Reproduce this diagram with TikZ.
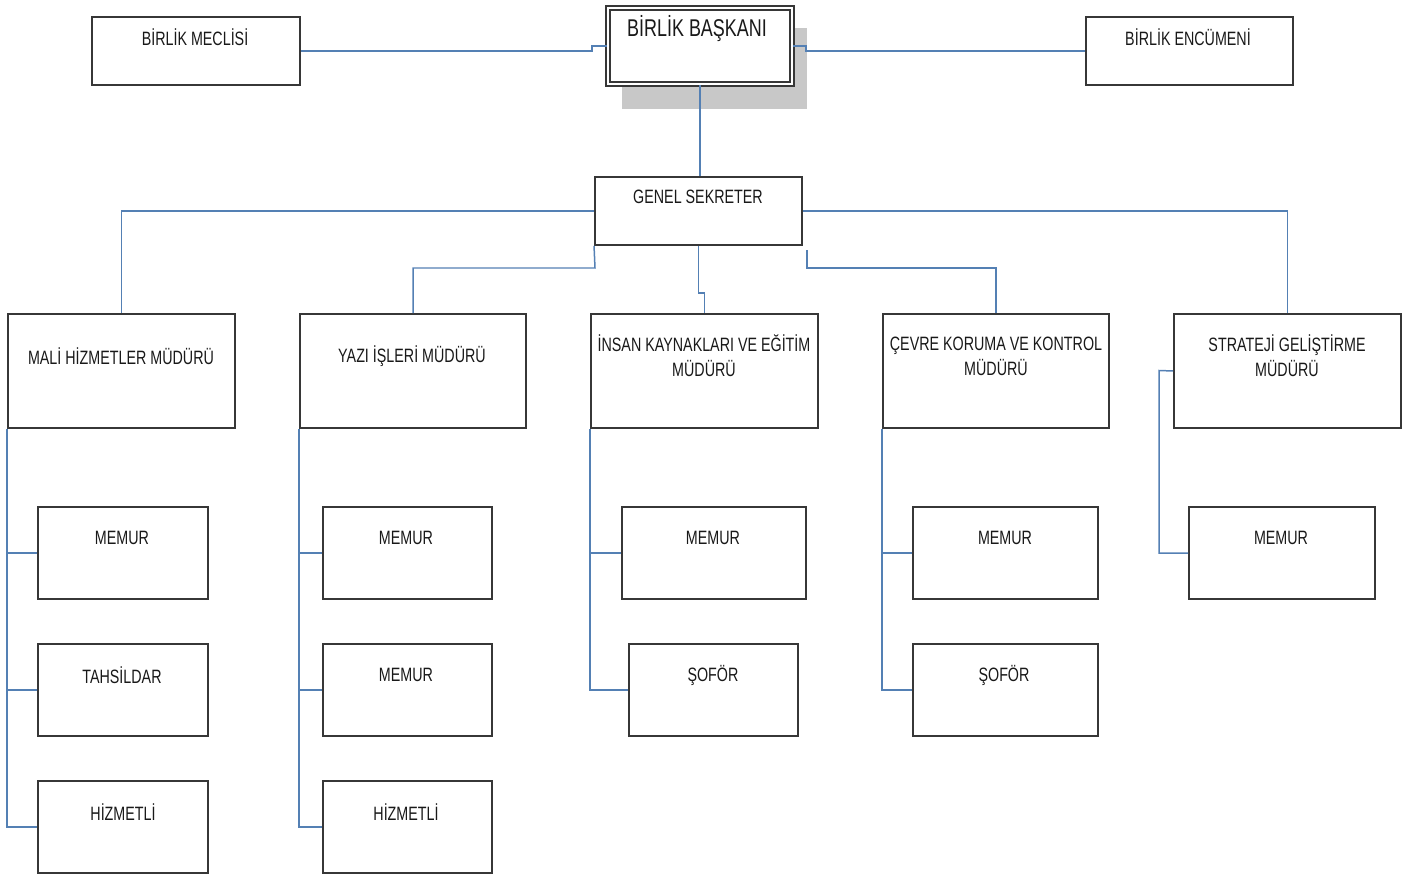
\documentclass[tikz,border=0pt]{standalone}
\usepackage{fontspec}
\setmainfont{Liberation Sans}[FakeStretch=0.74]
\usetikzlibrary{fit}
\definecolor{connc}{RGB}{84,128,180}
\definecolor{edgec}{RGB}{55,55,55}
\definecolor{shadec}{RGB}{200,200,200}
\definecolor{txtc}{RGB}{25,25,25}
\begin{document}
\begin{tikzpicture}[x=0.02cm,y=-0.02cm,
  box/.style={draw=edgec,line width=1.1pt,fill=white,inner sep=0pt},
  dbox/.style={draw=edgec,line width=0.9pt,double=white,double distance=1.6pt,fill=white,inner sep=0pt},
  txt/.style={inner sep=0pt,text=txtc,font=\fontsize{11}{14.2}\selectfont,align=center},
  bigtxt/.style={txt,font=\fontsize{13.8}{16}\selectfont},
  conn/.style={draw=connc,line width=0.85pt}]
\useasboundingbox (0,0) rectangle (1426,875);
% top row
\node[box,fit={(92,17)(300,85)}] (meclis) {};
\fill[shadec] (622,28) rectangle (807,109);
\node[dbox,fit={(608,8)(792,84)}] (baskan) {};
\node[box,fit={(1086,17)(1293,85)}] (encumen) {};
\node[box,fit={(595,177)(802,245)}] (gs) {};
% level 2
\node[box,fit={(8,314)(235,428)}] (mali) {};
\node[box,fit={(300,314)(526,428)}] (yazi) {};
\node[box,fit={(591,314)(818,428)}] (insan) {};
\node[box,fit={(883,314)(1109,428)}] (cevre) {};
\node[box,fit={(1174,314)(1401,428)}] (strat) {};
% level 3 - mali
\node[box,fit={(38,507)(208,599)}] (ma) {};
\node[box,fit={(38,644)(208,736)}] (mb) {};
\node[box,fit={(38,781)(208,873)}] (mc) {};
% yazi
\node[box,fit={(323,507)(492,599)}] (ya) {};
\node[box,fit={(323,644)(492,736)}] (yb) {};
\node[box,fit={(323,781)(492,873)}] (yc) {};
% insan
\node[box,fit={(622,507)(806,599)}] (ia) {};
\node[box,fit={(629,644)(798,736)}] (ib) {};
% cevre
\node[box,fit={(913,507)(1098,599)}] (ca) {};
\node[box,fit={(913,644)(1098,736)}] (cb) {};
% strateji
\node[box,fit={(1189,507)(1375,599)}] (sa) {};
% texts
\node[txt] (meclisT) at (195,37) {BİRLİK MECLİSİ};
\node[bigtxt] (baskanT) at (697,29) {BİRLİK BAŞKANI};
\node[txt] (encumenT) at (1188,37) {BİRLİK ENCÜMENİ};
\node[txt] (gsT) at (698,197) {GENEL SEKRETER};
\node[txt] (maliT) at (121,356) {MALİ HİZMETLER MÜDÜRÜ};
\node[txt] (yaziT) at (412,356) {YAZI İŞLERİ MÜDÜRÜ};
\node[txt] (insanT) at (704,356) {İNSAN KAYNAKLARI VE EĞİTİM\\MÜDÜRÜ};
\node[txt] (cevreT) at (996,356) {ÇEVRE KORUMA VE KONTROL\\MÜDÜRÜ};
\node[txt] (stratT) at (1287,356) {STRATEJİ GELİŞTİRME\\MÜDÜRÜ};
\node[txt] (maT) at (122,538) {MEMUR};
\node[txt] (mbT) at (122,675) {TAHSİLDAR};
\node[txt] (mcT) at (123,812) {HİZMETLİ};
\node[txt] (yaT) at (406,538) {MEMUR};
\node[txt] (ybT) at (406,675) {MEMUR};
\node[txt] (ycT) at (406,812) {HİZMETLİ};
\node[txt] (iaT) at (713,538) {MEMUR};
\node[txt] (ibT) at (713,675) {ŞOFÖR};
\node[txt] (caT) at (1005,538) {MEMUR};
\node[txt] (cbT) at (1004,675) {ŞOFÖR};
\node[txt] (saT) at (1281,538) {MEMUR};
% connectors top
\draw[conn] (meclis.east) -- (592,51) |- (baskan.west);
\draw[conn] (baskan.east) -- (806,46) |- (encumen.west);
\draw[conn] (baskan.south) -- (baskan.south |- gs.north);
% genel sekreter to level 2
\draw[conn] (gs.west) -| (mali.north);
\draw[conn] (gs.east) -| (strat.north);
\draw[conn] (gs.south west) -- (595,268) -| (yazi.north);
\draw[conn] (gs.south) -- ++(0,47) -| (insan.north);
\coordinate (gsr) at (807,250);
\draw[conn] (gsr) -- (807,268) -| (cevre.north);
% level 3
\draw[conn] (mali.south west) |- (ma.west);
\draw[conn] (mali.south west) |- (mb.west);
\draw[conn] (mali.south west) |- (mc.west);
\draw[conn] (yazi.south west) |- (ya.west);
\draw[conn] (yazi.south west) |- (yb.west);
\draw[conn] (yazi.south west) |- (yc.west);
\draw[conn] (insan.south west) |- (ia.west);
\draw[conn] (insan.south west) |- (ib.west);
\draw[conn] (cevre.south west) |- (ca.west);
\draw[conn] (cevre.south west) |- (cb.west);
\draw[conn] (strat.west) -- (1159,370.5) |- (sa.west);
\end{tikzpicture}
\end{document}
